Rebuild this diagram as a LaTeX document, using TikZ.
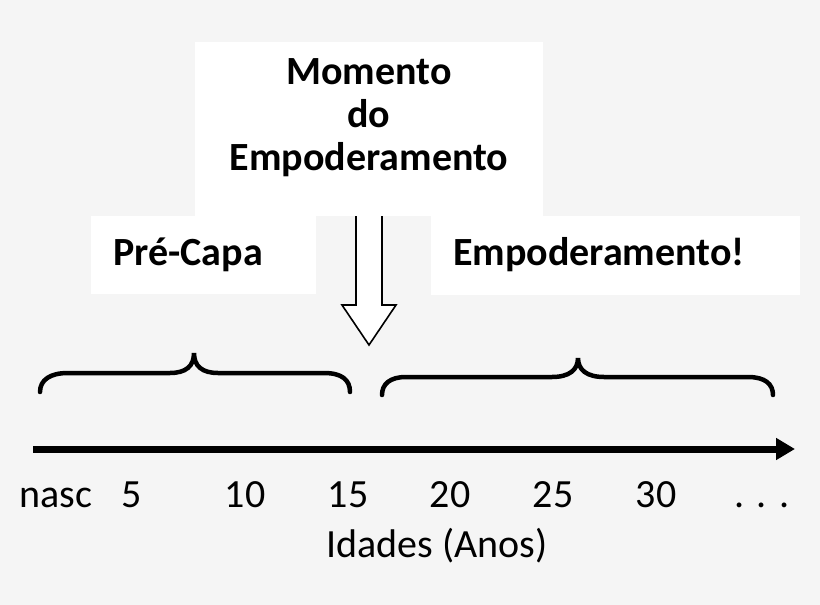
\documentclass[tikz,border=0pt]{standalone}
\usepackage{fontspec}
\setmainfont{Carlito}
\usetikzlibrary{arrows.meta}
\definecolor{bggray}{RGB}{245,245,245}

\begin{document}
\begin{tikzpicture}[x=1pt, y=-1pt,
  whitebox/.style={fill=white, draw=none, inner sep=0pt},
  boxtext/.style={font=\fontsize{40}{43}\selectfont\bfseries, inner sep=0pt, anchor=base west},
  agetext/.style={font=\fontsize{40}{43}\selectfont, inner sep=0pt, anchor=base},
  bracepath/.style={line width=4.5pt, line cap=round}]

\fill[bggray] (0,0) rectangle (820,605);
\useasboundingbox (0,0) rectangle (820,605);

\node[whitebox, minimum width=348, minimum height=174, anchor=north west] (mbox) at (195,42) {};
\node[font=\fontsize{40}{43}\selectfont\bfseries, align=center, inner sep=0pt] (mtext) at (369,118) {Momento\\do\\Empoderamento};

\node[whitebox, minimum width=225, minimum height=78, anchor=north west] (prebox) at (91,216) {};
\node[whitebox, minimum width=369, minimum height=79, anchor=north west] (empbox) at (431,216) {};
\node[boxtext] (pretext) at (113,265) {Pré-Capa};
\node[boxtext] (emptext) at (453,265) {Empoderamento!};

\draw[line width=1.6pt, fill=white, line join=miter]
  (356,216) -- (356,305) -- (342,305) -- (369,345) -- (396,305) -- (382,305) -- (382,216);

\draw[bracepath] (40,392) .. controls (40,380) and (50,373) .. (68,373) -- (170,373)
  .. controls (186,373) and (194,366) .. (194,353)
  .. controls (194,366) and (202,373) .. (218,373) -- (324,373)
  .. controls (342,373) and (350,380) .. (350,392);
\draw[bracepath] (382,395) .. controls (382,384) and (390,377) .. (406,377) -- (552,377)
  .. controls (569,377) and (578,370) .. (578,358)
  .. controls (578,370) and (587,377) .. (604,377) -- (748,377)
  .. controls (765,377) and (773,384) .. (773,395);

\coordinate (axstart) at (33,449);
\coordinate (axend) at (795,449);
\draw[line width=7pt, -{Triangle[length=19pt, width=21pt]}] (axstart) -- (axend);

\node[agetext] (nasc) at (56,507) {nasc};
\node[agetext] (a5) at (132,507) {5};
\node[agetext] (a10) at (245,507) {10};
\node[agetext] (a15) at (348,507) {15};
\node[agetext] (a20) at (450,507) {20};
\node[agetext] (a25) at (553,507) {25};
\node[agetext] (a30) at (656,507) {30};
\node[agetext] (dots) at (762,507) {. . .};
\node[agetext] (idades) at (437,557) {Idades (Anos)};

\end{tikzpicture}
\end{document}
